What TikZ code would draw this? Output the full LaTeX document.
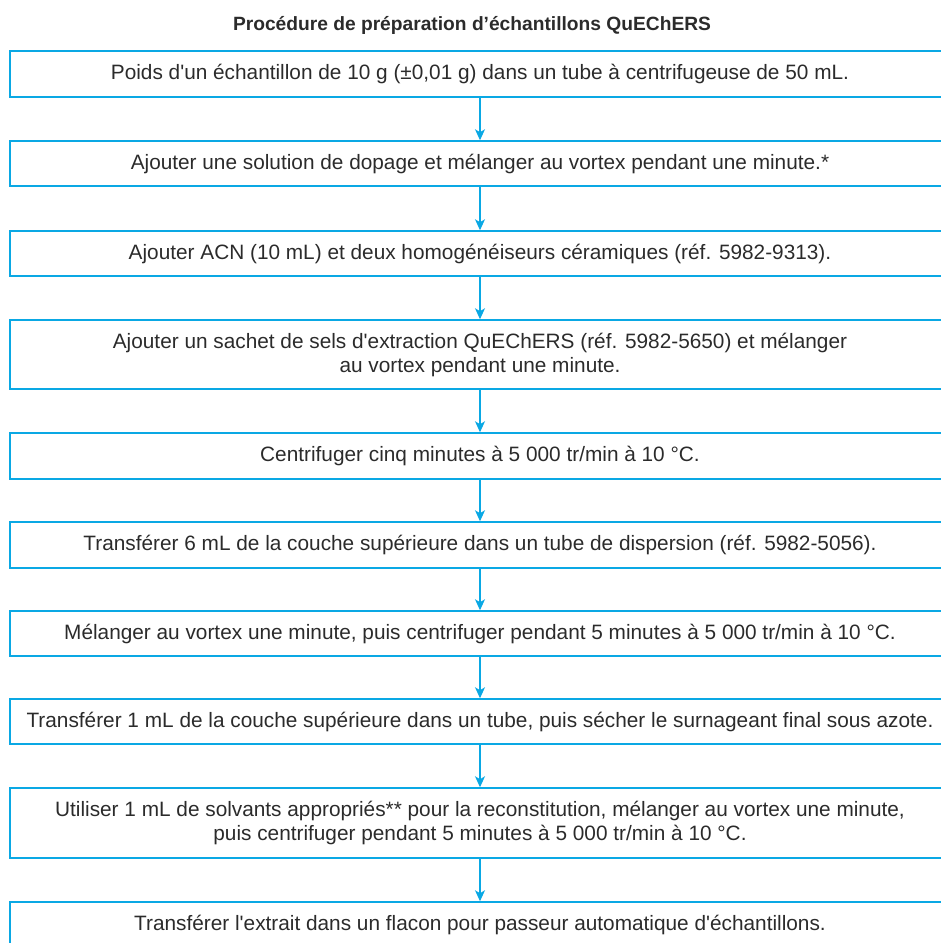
\documentclass[tikz,border=0pt]{standalone}
\usepackage{fontspec}
\setmainfont{Liberation Sans}
\usetikzlibrary{arrows.meta}
\definecolor{lineblue}{HTML}{0AA8E4}
\definecolor{txt}{HTML}{2B2B2B}
\newcommand\aq{\textquotesingle}
\tikzset{
  stepbox/.style={draw=lineblue, line width=1.5pt, minimum width=940pt, inner sep=0pt,
    align=center, text=txt, font=\fontsize{20.8}{24}\selectfont},
  flow/.style={draw=lineblue, line width=1.2pt, -{Stealth[length=11pt,width=10pt,inset=3pt]}},
  titletext/.style={text=txt, font=\bfseries\fontsize{19.2}{22}\selectfont}
}
\begin{document}
\begin{tikzpicture}[x=1pt,y=-1pt]
\useasboundingbox (0,0) rectangle (941,943);
\clip (0,0) rectangle (941,943);
\node[titletext] (title) at (472,25) {Procédure de préparation d’échantillons QuEChERS};
\node[stepbox, minimum height=46pt] (b1) at (480,74) {Poids d\aq un échantillon de 10 g (±0,01 g) dans un tube à centrifugeuse de 50 mL.};
\node[stepbox, minimum height=45pt] (b2) at (480,163.5) {Ajouter une solution de dopage et mélanger au vortex pendant une minute.*};
\node[stepbox, minimum height=45pt] (b3) at (480,253.5) {Ajouter ACN (10 mL) et deux homogénéiseurs céramiques (réf. 5982-9313).};
\node[stepbox, minimum height=69pt] (b4) at (480,354.5) {Ajouter un sachet de sels d\aq extraction QuEChERS (réf. 5982-5650) et mélanger\\au vortex pendant une minute.};
\node[stepbox, minimum height=46pt] (b5) at (480,456) {Centrifuger cinq minutes à 5 000 tr/min à 10 °C.};
\node[stepbox, minimum height=46pt] (b6) at (480,545) {Transférer 6 mL de la couche supérieure dans un tube de dispersion (réf. 5982-5056).};
\node[stepbox, minimum height=45pt] (b7) at (480,633.5) {Mélanger au vortex une minute, puis centrifuger pendant 5 minutes à 5 000 tr/min à 10 °C.};
\node[stepbox, minimum height=45pt] (b8) at (480,721.5) {Transférer 1 mL de la couche supérieure dans un tube, puis sécher le surnageant final sous azote.};
\node[stepbox, minimum height=70pt] (b9) at (480,823) {Utiliser 1 mL de solvants appropriés** pour la reconstitution, mélanger au vortex une minute,\\puis centrifuger pendant 5 minutes à 5 000 tr/min à 10 °C.};
\node[stepbox, minimum height=46pt] (b10) at (480,925) {Transférer l\aq extrait dans un flacon pour passeur automatique d\aq échantillons.};
\foreach \a/\b in {b1/b2,b2/b3,b3/b4,b4/b5,b5/b6,b6/b7,b7/b8,b8/b9,b9/b10}
  \draw[flow] (\a.south) -- (\b.north);
\end{tikzpicture}
\end{document}
